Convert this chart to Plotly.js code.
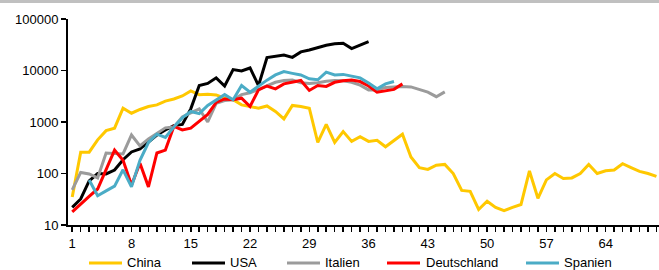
<!DOCTYPE html>
<html>
<head>
<meta charset="utf-8">
<script src="https://cdn.plot.ly/plotly-3.0.1.min.js"></script>
<style>
  html, body { margin: 0; padding: 0; background: #fff; }
  #chart { width: 659px; height: 270px; }
</style>
</head>
<body>
<div id="chart"></div>
<script>
// ---- Data (days since start, daily new cases) ----
const seriesNames = ["China", "USA", "Italien", "Deutschland", "Spanien"];
const xTickLabels = [1, 8, 15, 22, 29, 36, 43, 50, 57, 64];
const yTickLabels = [10, 100, 1000, 10000, 100000];

const china = [35, 260, 260, 450, 680, 760, 1850, 1480, 1750, 2000,
  2150, 2550, 2800, 3200, 4000, 3400, 3450, 3350, 2900, 2700,
  2150, 2000, 1850, 2050, 1600, 1150, 2100, 2000, 1850, 400,
  900, 400, 650, 420, 520, 420, 440, 330, 440, 580,
  210, 130, 120, 145, 150, 100, 47, 45, 20, 29,
  22, 19, 22, 25, 112, 33, 75, 100, 80, 82,
  100, 150, 100, 113, 117, 155, 130, 110, 100, 88];

const usa = [22, 32, 72, 100, 98, 117, 185, 262, 300, 415,
  560, 700, 850, 900, 1800, 5100, 5600, 7200, 5000, 10400,
  9800, 11200, 5100, 17800, 19000, 20000, 18000, 23000, 25000, 28000,
  31000, 33000, 33800, 26700, 31000, 36500];

const italien = [48, 105, 98, 82, 250, 245, 240, 560, 345, 470,
  590, 770, 800, 1250, 1500, 1800, 1000, 2300, 2600, 2700,
  3400, 3700, 4300, 5000, 5900, 6400, 6500, 5800, 5600, 5800,
  6200, 6400, 6300, 5900, 5200, 4200, 4200, 4700, 4800, 4900,
  4800, 4300, 3800, 3100, 3850];

const deutschland = [18, 26, 36, 50, 117, 285, 180, 60, 158, 55,
  250, 285, 820, 700, 760, 1050, 1400, 2400, 2800, 2700,
  2900, 2000, 4200, 5000, 4400, 5500, 5900, 6400, 4100, 5100,
  4900, 5900, 6300, 6500, 6100, 5000, 3800, 4000, 4300, 5500];

const spanien = [null, null, 75, 37, 46, 57, 118, 55, 180, 400,
  580, 500, 800, 1200, 1600, 1450, 2100, 2700, 3400, 2700,
  5100, 3800, 5000, 6500, 8200, 9500, 8800, 8200, 6900, 6600,
  9300, 8200, 8400, 7800, 7200, 5700, 4400, 5500, 6100];

const allSeries = [china, usa, italien, deutschland, spanien];
const colors = ["#FFC800", "#000000", "#9B9B9B", "#FF0000", "#4BACC6"];

// legend layout (pixel positions of swatch start and text start)
const W = 659, H = 270;
const M = { l: 68, r: 0, t: 19, b: 45 };
const plotW = W - M.l - M.r, plotH = H - M.t - M.b;
const legendSwatchStart = [89, 192, 287, 387, 526];
const legendSwatchLen = 33;
const legendTextStart = [126, 229, 324, 425, 563];
const legendCenterY = 262;
const px2x = (px) => (px - M.l) / plotW;
const py2y = (py) => (H - M.b - py) / plotH;

const dayCount = china.length;
const days = [];
for (let i = 1; i <= dayCount; i++) days.push(i);

const FONT = "Liberation Sans, Arial, Helvetica, sans-serif";

const traces = allSeries.map((vals, i) => ({
  type: "scatter",
  mode: "lines",
  name: seriesNames[i],
  x: days.slice(0, vals.length),
  y: vals,
  line: { color: colors[i], width: 3 },
  connectgaps: false,
  hoverinfo: "skip"
}));

const shapes = [{
  type: "rect", xref: "paper", yref: "paper",
  x0: -0.2, x1: 1.1, y0: py2y(3), y1: py2y(-5),
  fillcolor: "#C0C0C0", line: { width: 0 }, layer: "above"
}];
const annotations = [];
seriesNames.forEach((name, i) => {
  shapes.push({
    type: "line", xref: "paper", yref: "paper",
    x0: px2x(legendSwatchStart[i]), x1: px2x(legendSwatchStart[i] + legendSwatchLen),
    y0: py2y(legendCenterY + 1), y1: py2y(legendCenterY + 1),
    line: { color: colors[i], width: 3 }
  });
  annotations.push({
    xref: "paper", yref: "paper",
    x: px2x(legendTextStart[i]), y: py2y(legendCenterY),
    xanchor: "left", yanchor: "middle",
    text: name, showarrow: false, borderpad: 0,
    font: { family: FONT, size: 13, color: "#000" }
  });
});

const layout = {
  width: W,
  height: H,
  margin: { l: M.l, r: M.r, t: M.t, b: M.b, autoexpand: false },
  paper_bgcolor: "#fff",
  plot_bgcolor: "#fff",
  font: { family: FONT, size: 13, color: "#000" },
  showlegend: false,
  xaxis: {
    range: [0.5, 70.3],
    tickmode: "array",
    tickvals: xTickLabels,
    ticktext: xTickLabels.map(String),
    ticks: "outside",
    ticklen: 5,
    tickwidth: 1.5,
    tickcolor: "#000",
    showline: true,
    linecolor: "#000",
    linewidth: 2,
    showgrid: false,
    zeroline: false,
    automargin: false,
    minor: { dtick: 1, tick0: 1, ticks: "outside", ticklen: 5, tickwidth: 1.5, tickcolor: "#000", showgrid: false },
    tickfont: { family: FONT, size: 13, color: "#000" }
  },
  yaxis: {
    type: "log",
    range: [1, 5],
    tickmode: "array",
    tickvals: yTickLabels,
    ticktext: yTickLabels.map(String),
    ticks: "outside",
    ticklen: 5,
    tickwidth: 1.5,
    tickcolor: "#000",
    showline: true,
    linecolor: "#000",
    linewidth: 2,
    showgrid: false,
    zeroline: false,
    automargin: false,
    tickfont: { family: FONT, size: 13, color: "#000" }
  },
  shapes: shapes,
  annotations: annotations
};

Plotly.newPlot("chart", traces, layout, { staticPlot: true, displayModeBar: false });
</script>
</body>
</html>
